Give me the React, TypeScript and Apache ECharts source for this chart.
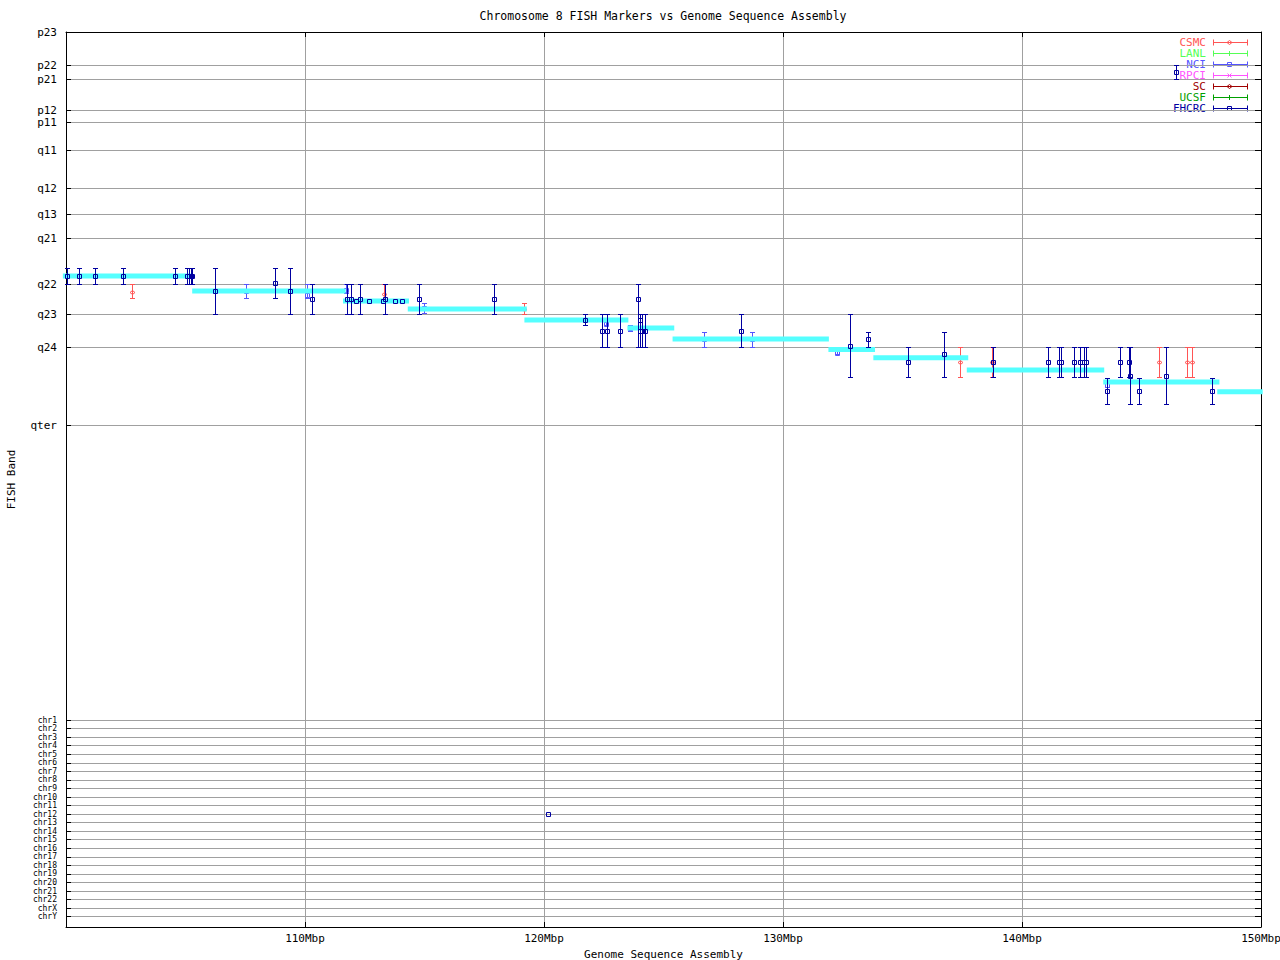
import React, { useEffect, useRef } from "react";
import * as echarts from "echarts";

// ---------- data ----------
const titleText = "Chromosome 8 FISH Markers vs Genome Sequence Assembly";
const xAxisName = "Genome Sequence Assembly";
const yAxisName = "FISH Band";

const xTickValues = [100, 110, 120, 130, 140, 150];

const bandLabels = ["p23", "p22", "p21", "p12", "p11", "q11", "q12", "q13", "q21", "q22", "q23", "q24", "qter"];
const bandPositions = [0, 33, 47, 78.3, 90.3, 118.7, 156.3, 182.3, 206, 252.3, 282.3, 315.3, 393.3];

const chrLabels = [
  "chr1", "chr2", "chr3", "chr4", "chr5", "chr6", "chr7", "chr8", "chr9", "chr10", "chr11", "chr12",
  "chr13", "chr14", "chr15", "chr16", "chr17", "chr18", "chr19", "chr20", "chr21", "chr22", "chrX", "chrY",
];
const chrPositions = [
  688, 696.6, 705.1, 713.7, 722.2, 730.8, 739.3, 747.9, 756.4, 765.0, 773.5, 782.1,
  790.6, 799.2, 807.7, 816.3, 824.8, 833.4, 841.9, 850.5, 859.0, 867.6, 876.1, 884.7,
];
const yMax = 895;

const sourceNames = ["CSMC", "LANL", "NCI", "RPCI", "SC", "UCSF", "FHCRC"];

// [Mbp, band centre, band low, band high]
const csmcMarkers = [
  [102.77, 259.7, 252.3, 266.3],
  [113.32, 262.3, 252.3, 268],
  [119.18, 277, 271.3, 282.3],
  [137.42, 330.3, 315.3, 345.3],
  [138.73, 330.3, 315.3, 345.3],
  [145.74, 330.3, 315.3, 345.3],
  [146.92, 330.3, 315.3, 345.3],
  [147.13, 330.3, 315.3, 345.3],
];
const lanlMarkers: number[][] = [];
const nciMarkers = [
  [107.53, 259, 252.3, 266.3],
  [110.07, 263, 252.3, 266.3],
  [111.7, 258, 252.3, 261],
  [114.99, 276, 271.3, 281.3],
  [122.59, 291.5, 290.3, 293],
  [123.61, 296.3, 293, 298.7],
  [126.71, 307, 299.7, 315.3],
  [128.69, 307, 299.7, 315.3],
  [132.27, 320.5, 319, 322],
  [143.57, 353, 351.3, 354.7],
];
const rpciMarkers: number[][] = [];
const scMarkers: number[][] = [];
const ucsfMarkers: number[][] = [];
const fhcrcMarkers = [
  [100.05, 244, 236, 252.3],
  [100.56, 244, 236, 252.3],
  [101.23, 244, 236, 252.3],
  [102.4, 244, 236, 252.3],
  [104.57, 244, 236, 252.3],
  [105.06, 244, 236, 252.3],
  [105.14, 244, 236, 252.3],
  [105.21, 244, 236, 252.3],
  [105.27, 244, 236, 252.3],
  [106.23, 259, 236, 282.3],
  [108.76, 251.3, 236, 266.3],
  [109.37, 259, 236, 282.3],
  [110.31, 267.3, 252.3, 282.3],
  [111.74, 267.3, 252.3, 282.3],
  [111.92, 267.3, 252.3, 282.3],
  [112.13, 269, 269, 269],
  [112.31, 267.3, 252.3, 282.3],
  [112.69, 269, 269, 269],
  [113.25, 269, 269, 269],
  [113.36, 267.3, 252.3, 282.3],
  [113.77, 269, 269, 269],
  [114.07, 269, 269, 269],
  [114.78, 267.3, 252.3, 282.3],
  [117.92, 267.3, 252.3, 282.3],
  [120.18, 782.1, 782.1, 782.1],
  [121.73, 288, 282.3, 293],
  [122.41, 299, 282.3, 315.3],
  [122.65, 299, 282.3, 315.3],
  [123.19, 299, 282.3, 315.3],
  [123.95, 267.3, 252.3, 315.3],
  [124.0, 288.3, 282.3, 315.3],
  [124.03, 299, 282.3, 315.3],
  [124.11, 299, 282.3, 315.3],
  [124.21, 299, 282.3, 315.3],
  [128.26, 299, 282.3, 315.3],
  [132.82, 314.3, 282.3, 345.3],
  [133.57, 307.3, 299.7, 315.3],
  [135.24, 330.3, 315.3, 345.3],
  [136.75, 322.3, 299.7, 345.3],
  [138.8, 330.3, 315.3, 345.3],
  [141.1, 330.3, 315.3, 345.3],
  [141.54, 330.3, 315.3, 345.3],
  [141.65, 330.3, 315.3, 345.3],
  [142.19, 330.3, 315.3, 345.3],
  [142.44, 330.3, 315.3, 345.3],
  [142.59, 330.3, 315.3, 345.3],
  [142.66, 330.3, 315.3, 345.3],
  [143.57, 359.3, 345.7, 372.3],
  [144.11, 330.3, 315.3, 345.3],
  [144.49, 330.3, 315.3, 345.3],
  [144.53, 344, 315.3, 372.3],
  [144.91, 359.3, 345.7, 372.3],
  [146.03, 344.3, 315.3, 372.3],
  [146.44, 40.3, 33.3, 47.3],
  [147.94, 359.3, 345.7, 372.3],
];

// sequence assembly contigs: [start Mbp, end Mbp, band level]
const contigs = [
  [99.87, 105.31, 244],
  [105.28, 111.7, 259],
  [111.59, 114.35, 269],
  [114.3, 119.28, 277],
  [119.18, 123.53, 288],
  [123.49, 125.45, 296],
  [125.38, 131.92, 307],
  [131.9, 133.85, 317.5],
  [133.78, 137.75, 325.7],
  [137.69, 143.44, 338],
  [143.4, 148.26, 350],
  [148.17, 150.07, 359.7],
];

const sourceData = [csmcMarkers, lanlMarkers, nciMarkers, rpciMarkers, scMarkers, ucsfMarkers, fhcrcMarkers];

// ---------- styles ----------
const FONT = "DejaVu Sans Mono";
const sourceColors = ["#ff5555", "#55ff55", "#5555ff", "#ff55ff", "#a00000", "#00a000", "#0000a0"];
const sourceShapes = ["diamond", "plus", "square", "cross", "diamond", "plus", "square"];
const contigColor = "#55ffff";
const gridColor = "#a0a0a0";

function markerShape(shape: string, cx: number, cy: number, color: string): any {
  const st = { stroke: color, fill: "none", lineWidth: 1 };
  if (shape === "square") {
    return { type: "rect", shape: { x: cx - 2, y: cy - 2, width: 4, height: 4 }, style: st };
  }
  if (shape === "diamond") {
    return {
      type: "polygon",
      shape: { points: [[cx, cy - 2], [cx + 2.5, cy], [cx, cy + 2], [cx - 2.5, cy]] },
      style: st,
    };
  }
  if (shape === "plus") {
    return {
      type: "group",
      children: [
        { type: "line", shape: { x1: cx - 2.5, y1: cy, x2: cx + 2.5, y2: cy }, style: st },
        { type: "line", shape: { x1: cx, y1: cy - 2.5, x2: cx, y2: cy + 2.5 }, style: st },
      ],
    };
  }
  return {
    type: "group",
    children: [
      { type: "line", shape: { x1: cx - 2, y1: cy - 2, x2: cx + 2, y2: cy + 2 }, style: st },
      { type: "line", shape: { x1: cx - 2, y1: cy + 2, x2: cx + 2, y2: cy - 2 }, style: st },
    ],
  };
}

function makeMarkerRender(shape: string, color: string) {
  return (_params: any, api: any) => {
    const x = api.value(0);
    const c = api.value(1);
    const lo = api.value(2);
    const hi = api.value(3);
    const pc = api.coord([x, c]);
    const pl = api.coord([x, lo]);
    const ph = api.coord([x, hi]);
    const px = Math.round(pc[0]) + 0.5;
    const py = Math.round(pc[1]) + 0.5;
    const yl = Math.round(pl[1]) + 0.5;
    const yh = Math.round(ph[1]) + 0.5;
    const st = { stroke: color, lineWidth: 1, fill: "none" };
    const children: any[] = [];
    if (lo !== hi) {
      children.push({ type: "line", shape: { x1: px, y1: yl, x2: px, y2: yh }, style: st });
      children.push({ type: "line", shape: { x1: px - 2.5, y1: yl, x2: px + 2.5, y2: yl }, style: st });
      children.push({ type: "line", shape: { x1: px - 2.5, y1: yh, x2: px + 2.5, y2: yh }, style: st });
    }
    children.push(markerShape(shape, px, py, color));
    return { type: "group", children };
  };
}

function contigRender(_params: any, api: any) {
  const a = api.coord([api.value(0), api.value(2)]);
  const b = api.coord([api.value(1), api.value(2)]);
  return {
    type: "line",
    shape: { x1: a[0], y1: a[1], x2: b[0], y2: b[1] },
    style: { stroke: contigColor, lineWidth: 5, lineCap: "butt" },
  };
}

const allTickPositions = [...bandPositions, ...chrPositions];

function nearestLabel(v: number, positions: number[], labels: string[]) {
  let best = 0;
  let bd = Infinity;
  positions.forEach((p, i) => {
    const d = Math.abs(p - v);
    if (d < bd) {
      bd = d;
      best = i;
    }
  });
  return labels[best];
}

function buildLegend(): any[] {
  const items: any[] = [];
  sourceNames.forEach((name, i) => {
    const y = 42.5 + 11 * i;
    const color = sourceColors[i];
    const st = { stroke: color, lineWidth: 1, fill: "none" };
    items.push({
      type: "text",
      x: 1206,
      y,
      style: { text: name, fill: color, font: `11px "${FONT}"`, align: "right", verticalAlign: "middle" },
    });
    items.push({ type: "line", shape: { x1: 1213.5, y1: y, x2: 1247.5, y2: y }, style: st });
    items.push({ type: "line", shape: { x1: 1213.5, y1: y - 3, x2: 1213.5, y2: y + 3 }, style: st });
    items.push({ type: "line", shape: { x1: 1247.5, y1: y - 3, x2: 1247.5, y2: y + 3 }, style: st });
    items.push(markerShape(sourceShapes[i], 1229.5, y, color));
  });
  return items;
}

export default function App() {
  const ref = useRef<HTMLDivElement>(null);
  useEffect(() => {
    if (!ref.current) return;
    const chart = echarts.init(ref.current, null, { renderer: "svg" });
    const textStyle = { color: "#000", fontFamily: FONT, fontSize: 11 };

    const markerSeries = sourceNames.map((name, i) => ({
      type: "custom",
      name,
      xAxisIndex: 0,
      yAxisIndex: 0,
      clip: false,
      encode: { x: 0, y: [1, 2, 3] },
      data: sourceData[i],
      renderItem: makeMarkerRender(sourceShapes[i], sourceColors[i]),
      z: i === 6 ? 5 : 3,
    }));

    const option: any = {
      animation: false,
      backgroundColor: "#fff",
      grid: { left: 66, right: 19, top: 32, bottom: 33, containLabel: false, outerBoundsMode: "none" },
      xAxis: [
        {
          type: "value",
          min: 100,
          max: 150,
          interval: 10,
          position: "bottom",
          axisLine: { show: true, onZero: false, lineStyle: { color: "#000", width: 1 } },
          axisTick: { show: true, inside: true, length: 5, lineStyle: { color: "#000" } },
          axisLabel: {
            ...textStyle,
            margin: 6,
            showMaxLabel: true,
            formatter: (v: number) => (v === xTickValues[0] ? "" : `${v}Mbp`),
          },
          splitLine: { show: true, lineStyle: { color: gridColor, width: 1 } },
          name: xAxisName,
          nameLocation: "middle",
          nameGap: 20,
          nameTextStyle: textStyle,
        },
        {
          type: "value",
          min: 100,
          max: 150,
          interval: 10,
          position: "top",
          axisLine: { show: true, onZero: false, lineStyle: { color: "#000", width: 1 } },
          axisTick: { show: true, inside: true, length: 5, lineStyle: { color: "#000" } },
          axisLabel: { show: false },
          splitLine: { show: false },
        },
      ],
      yAxis: [
        {
          type: "value",
          inverse: true,
          min: 0,
          max: yMax,
          position: "left",
          axisLine: { show: true, onZero: false, lineStyle: { color: "#000", width: 1 } },
          axisTick: {
            show: true,
            inside: true,
            length: 5,
            customValues: allTickPositions,
            lineStyle: { color: "#000" },
          },
          axisLabel: {
            ...textStyle,
            margin: 9,
            showMinLabel: true,
            showMaxLabel: true,
            customValues: bandPositions,
            formatter: (v: number) => nearestLabel(v, bandPositions, bandLabels),
          },
          splitLine: { show: true, lineStyle: { color: gridColor, width: 1 } },
          name: yAxisName,
          nameLocation: "middle",
          nameGap: 49,
          nameRotate: 90,
          nameTextStyle: textStyle,
        },
        {
          type: "value",
          inverse: true,
          min: 0,
          max: yMax,
          position: "right",
          axisLine: { show: true, onZero: false, lineStyle: { color: "#000", width: 1 } },
          axisTick: {
            show: true,
            inside: true,
            length: 6,
            customValues: allTickPositions,
            lineStyle: { color: "#000" },
          },
          axisLabel: { show: false },
          splitLine: { show: false },
        },
        {
          type: "value",
          inverse: true,
          min: 0,
          max: yMax,
          position: "left",
          offset: 0,
          axisLine: { show: false, onZero: false },
          axisTick: { show: false, customValues: chrPositions },
          axisLabel: {
            color: "#000",
            fontFamily: FONT,
            fontSize: 8,
            lineHeight: 8,
            margin: 9,
            showMinLabel: true,
            showMaxLabel: true,
            customValues: chrPositions,
            formatter: (v: number) => nearestLabel(v, chrPositions, chrLabels),
          },
          splitLine: { show: false },
        },
      ],
      graphic: [
        {
          type: "text",
          x: 663,
          y: 15.5,
          style: {
            text: titleText,
            fill: "#000",
            font: `11.5px "${FONT}"`,
            align: "center",
            verticalAlign: "middle",
          },
        },
        ...buildLegend(),
      ],
      series: [
        ...markerSeries.slice(0, 6),
        {
          type: "custom",
          name: "contigs",
          xAxisIndex: 0,
          yAxisIndex: 0,
          clip: false,
          encode: { x: [0, 1], y: 2 },
          data: contigs,
          renderItem: contigRender,
          z: 4,
        },
        markerSeries[6],
      ],
    };
    chart.setOption(option);
    return () => chart.dispose();
  }, []);
  return (
    <div
      ref={ref}
      style={{ position: "fixed", left: 0, top: 0, width: 1280, height: 960, background: "#fff" }}
    />
  );
}
